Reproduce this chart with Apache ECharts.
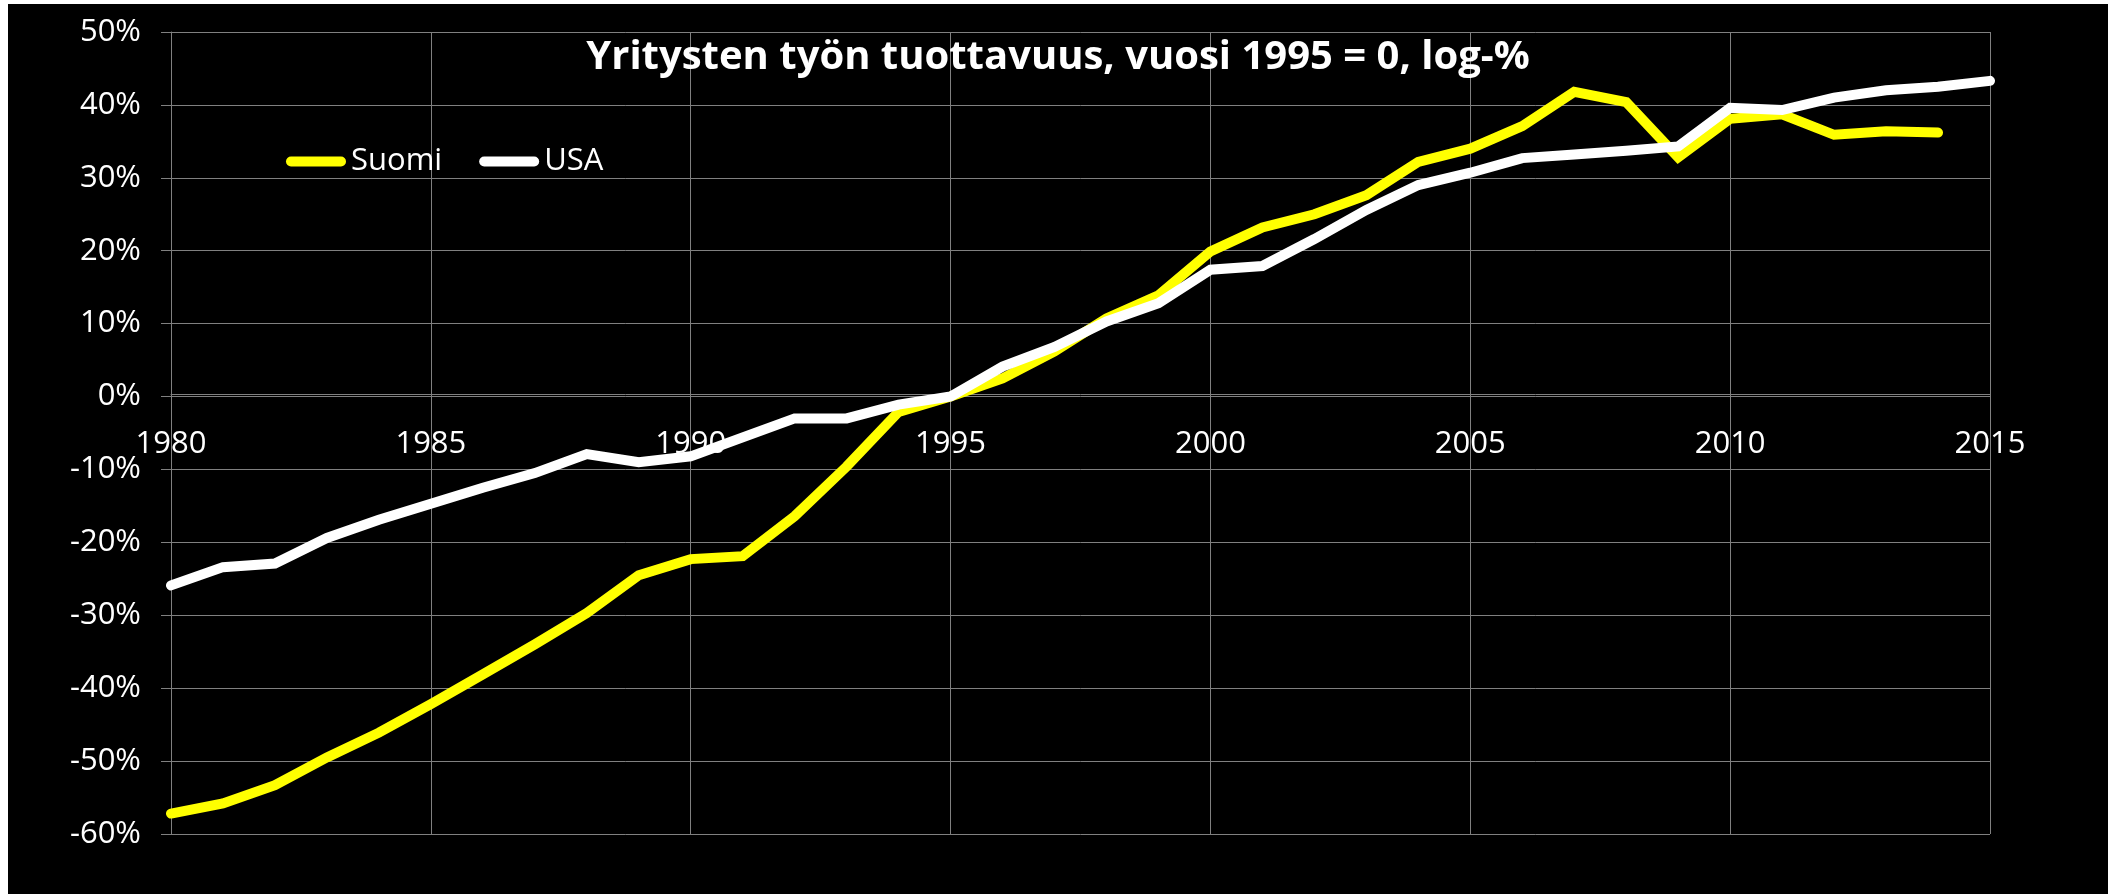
<!DOCTYPE html>
<html>
<head>
<meta charset="utf-8">
<script src="https://cdn.jsdelivr.net/npm/echarts@6/dist/echarts.min.js"></script>
<style>
  html, body { margin: 0; padding: 0; background: #ffffff; }
  #chart { position: absolute; left: 8px; top: 4px; width: 2100px; height: 890px; background: #000000; }
</style>
</head>
<body>
<div id="chart"></div>
<script>
// Vuodet ja sarjat (log-%, 1995 = 0), luettu kuvasta
const years = [1980, 1981, 1982, 1983, 1984, 1985, 1986, 1987, 1988, 1989,
               1990, 1991, 1992, 1993, 1994, 1995, 1996, 1997, 1998, 1999,
               2000, 2001, 2002, 2003, 2004, 2005, 2006, 2007, 2008, 2009,
               2010, 2011, 2012, 2013, 2014, 2015];

const suomi = [-57.2, -55.8, -53.3, -49.5, -46.1, -42.2, -38.1, -34.0, -29.7, -24.5,
               -22.3, -21.9, -16.4, -9.6, -2.1, 0, 2.5, 6.2, 10.7, 13.9,
               19.9, 23.2, 25.0, 27.6, 32.2, 34.0, 37.1, 41.8, 40.4, 32.8,
               38.1, 38.7, 35.9, 36.4, 36.2];

const usa = [-25.9, -23.4, -22.9, -19.4, -16.9, -14.7, -12.5, -10.5, -7.9, -9.0,
             -8.2, -5.6, -3.0, -3.0, -1.1, 0, 4.1, 6.8, 10.3, 12.8,
             17.4, 17.9, 21.6, 25.6, 29.0, 30.7, 32.7, 33.2, 33.7, 34.3,
             39.6, 39.3, 41.0, 42.0, 42.5, 43.3];

const seriesNames = ['Suomi', 'USA'];
const titleText = 'Yritysten työn tuottavuus, vuosi 1995 = 0, log-%';

const gridColor = '#808080';
const font = 'Open Sans';

function toPairs(values) {
    return values.map((v, i) => [years[i], v]);
}

const chart = echarts.init(document.getElementById('chart'), null, { renderer: 'canvas' });

// pill-shaped legend icon, like the thick line in the original
const pillIcon = 'path://M5,0 L55,0 A5,5 0 0 1 55,10 L5,10 A5,5 0 0 1 5,0 Z';

const option = {
    backgroundColor: '#000000',
    animation: false,
    title: {
        text: titleText,
        left: 'center',
        top: 29,
        textStyle: {
            color: '#ffffff',
            fontFamily: font,
            fontWeight: 'bold',
            fontSize: 40
        }
    },
    legend: {
        left: 273,
        top: 137,
        itemWidth: 60,
        itemHeight: 10,
        itemGap: 37,
        data: [
            { name: seriesNames[0], icon: pillIcon },
            { name: seriesNames[1], icon: pillIcon }
        ],
        textStyle: {
            color: '#ffffff',
            fontFamily: font,
            fontSize: 31
        }
    },
    grid: {
        left: 163,
        right: 118,
        top: 28,
        bottom: 60
    },
    xAxis: {
        type: 'value',
        min: 1980,
        max: 2015,
        interval: 5,
        axisLine: {
            show: true,
            onZero: false,
            lineStyle: { color: gridColor, width: 1 }
        },
        axisTick: { show: false },
        axisLabel: {
            color: '#ffffff',
            fontFamily: font,
            fontSize: 31,
            margin: 35,
            formatter: (v) => String(v)
        },
        splitLine: {
            show: true,
            lineStyle: { color: gridColor, width: 1 }
        }
    },
    yAxis: {
        type: 'value',
        min: -60,
        max: 50,
        interval: 10,
        axisLine: {
            show: true,
            onZero: false,
            lineStyle: { color: gridColor, width: 1 }
        },
        axisTick: {
            show: true,
            length: 10,
            lineStyle: { color: gridColor, width: 1 }
        },
        axisLabel: {
            color: '#ffffff',
            fontFamily: font,
            fontSize: 31,
            margin: 30,
            formatter: '{value}%'
        },
        splitLine: {
            show: true,
            lineStyle: { color: gridColor, width: 1 }
        }
    },
    series: [
        {
            name: seriesNames[0],
            type: 'line',
            data: toPairs(suomi),
            showSymbol: false,
            symbol: 'none',
            itemStyle: { color: '#ffff00' },
            lineStyle: { color: '#ffff00', width: 10, cap: 'round', join: 'miter' }
        },
        {
            name: seriesNames[1],
            type: 'line',
            data: toPairs(usa),
            showSymbol: false,
            symbol: 'none',
            itemStyle: { color: '#ffffff' },
            lineStyle: { color: '#ffffff', width: 10, cap: 'round', join: 'miter' }
        }
    ]
};

chart.setOption(option);

// vuosiakseli kulkee 0 %:n kohdalla kuten Excelissä: siirretään se sinne
const zeroY = chart.convertToPixel({ yAxisIndex: 0 }, 0);
const bottomY = chart.getHeight() - option.grid.bottom;
chart.setOption({ xAxis: { offset: zeroY - bottomY } });
</script>
</body>
</html>
